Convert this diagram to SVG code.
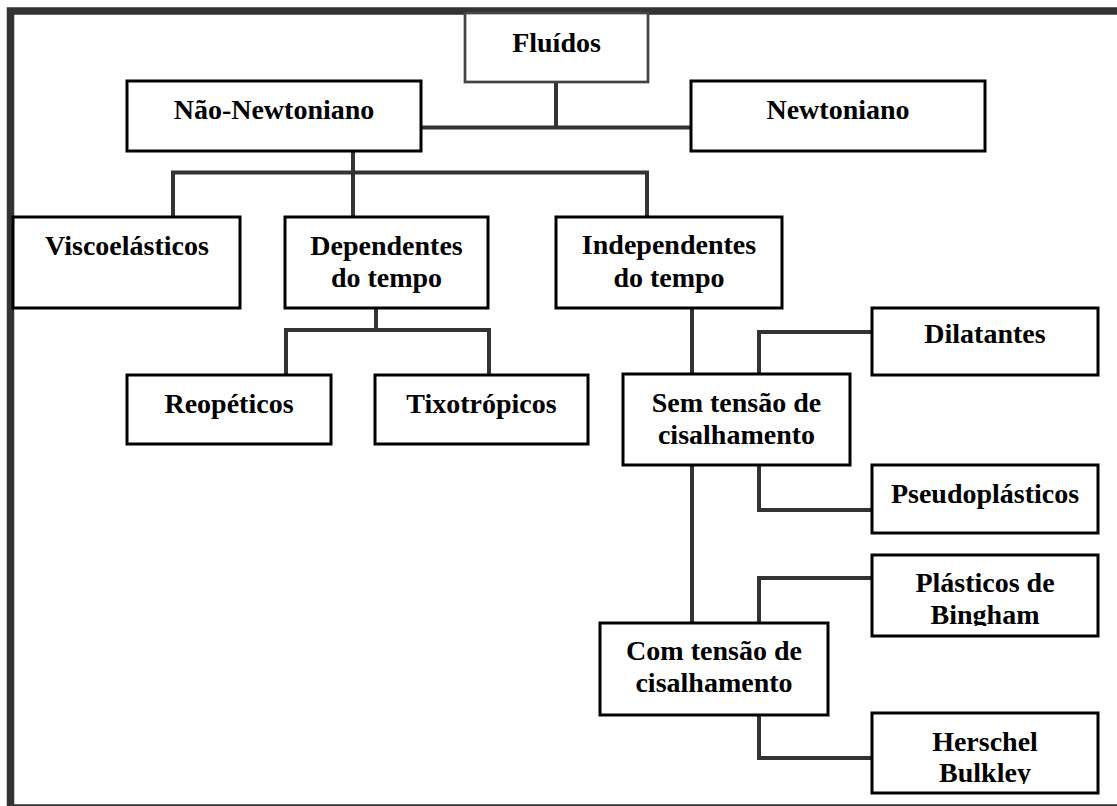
<svg xmlns="http://www.w3.org/2000/svg" width="1117" height="806" viewBox="0 0 1117 806">
<style>
.frame{fill:none;stroke:#333;stroke-width:7.5}
.box{fill:#fff;stroke:#000;stroke-width:3}
.box2{fill:#fff;stroke:#444;stroke-width:2.7}
.con{fill:none;stroke:#333;stroke-width:4;stroke-linejoin:miter;stroke-linecap:square}
text{font-family:"Liberation Serif","Times New Roman",serif;font-weight:bold;font-size:28px;fill:#000;text-anchor:middle}
</style>
<defs>
<clipPath id="clipBing"><rect x="872" y="555" width="226" height="71"/></clipPath>
<clipPath id="clipHers"><rect x="872" y="713" width="226" height="71"/></clipPath>
</defs>
<rect x="0" y="0" width="1117" height="806" fill="#fff"/>
<rect class="frame" x="10.5" y="11" width="1200" height="797"/>
<g id="connectors">
<path class="con" d="M556 82 V127.5 M421 127.5 H691"/>
<path class="con" d="M353 151 V217 M173 217 V172.5 H647 V217"/>
<path class="con" d="M376 308 V330 M286 375 V330 H489 V375"/>
<path class="con" d="M692 308 V374"/>
<path class="con" d="M759 374 V332 H872"/>
<path class="con" d="M759 465 V510 H872"/>
<path class="con" d="M692 465 V623"/>
<path class="con" d="M759 623 V578 H872"/>
<path class="con" d="M759 715 V758 H872"/>
</g>
<g id="fluidos"><rect class="box2" x="465" y="13" width="183" height="69"/><text x="556.5" y="52">Fluídos</text></g>
<g id="nao-newtoniano"><rect class="box" x="127" y="81" width="294" height="70"/><text x="274" y="119">Não-Newtoniano</text></g>
<g id="newtoniano"><rect class="box" x="691" y="81" width="294" height="70"/><text x="838" y="119">Newtoniano</text></g>
<g id="viscoelasticos"><rect class="box" x="13" y="217" width="227" height="91"/><text x="127" y="255">Viscoelásticos</text></g>
<g id="dependentes"><rect class="box" x="285" y="217" width="203" height="91"/><text x="386.5" y="255">Dependentes</text><text x="386.5" y="287">do tempo</text></g>
<g id="independentes"><rect class="box" x="556" y="217" width="226" height="91"/><text x="669" y="254">Independentes</text><text x="669" y="287">do tempo</text></g>
<g id="reopeticos"><rect class="box" x="127" y="375" width="204" height="69"/><text x="229" y="413">Reopéticos</text></g>
<g id="tixotropicos"><rect class="box" x="375" y="375" width="213" height="69"/><text x="481.5" y="413">Tixotrópicos</text></g>
<g id="sem-tensao"><rect class="box" x="623" y="374" width="227" height="91"/><text x="736.5" y="412">Sem tensão de</text><text x="736.5" y="444">cisalhamento</text></g>
<g id="dilatantes"><rect class="box" x="872" y="308" width="226" height="67"/><text x="985" y="343">Dilatantes</text></g>
<g id="pseudoplasticos"><rect class="box" x="872" y="465" width="226" height="68"/><text x="985" y="503">Pseudoplásticos</text></g>
<g id="com-tensao"><rect class="box" x="600" y="623" width="228" height="92"/><text x="714" y="660">Com tensão de</text><text x="714" y="692">cisalhamento</text></g>
<g id="bingham"><rect class="box" x="872" y="555" width="226" height="81"/><g clip-path="url(#clipBing)"><text x="985" y="592">Plásticos de</text><text x="985" y="624">Bingham</text></g></g>
<g id="herschel"><rect class="box" x="872" y="713" width="226" height="80"/><g clip-path="url(#clipHers)"><text x="985" y="751">Herschel</text><text x="985" y="782">Bulkley</text></g></g>
</svg>
